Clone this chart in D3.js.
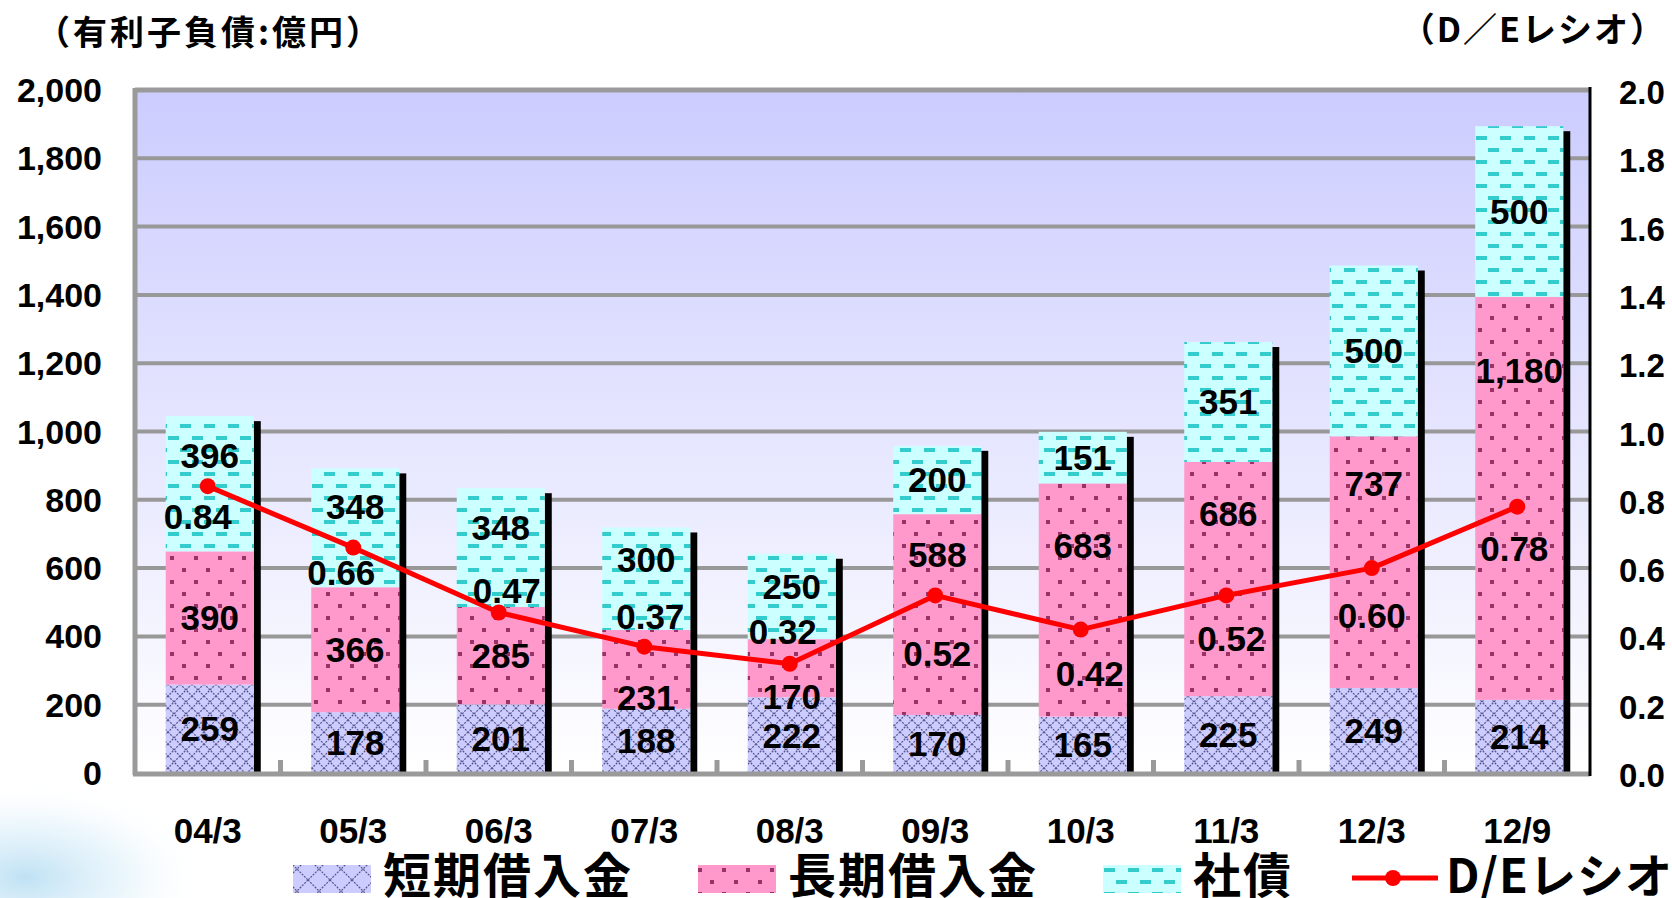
<!doctype html>
<html>
<head>
<meta charset="utf-8">
<title>有利子負債とD/Eレシオ</title>
<script src="https://d3js.org/d3.v7.min.js"></script>
<style>
  body { margin: 0; background: #fff; }
  svg text { font-family: "Liberation Sans", Arial, sans-serif; font-weight: bold; fill: #000; }
  svg text.jp { font-family: "Noto Sans CJK JP", sans-serif; }
</style>
</head>
<body>
<svg id="chart" width="1672" height="898"></svg>
<script>
// ---- data ----
var categories = ["04/3", "05/3", "06/3", "07/3", "08/3", "09/3", "10/3", "11/3", "12/3", "12/9"];
var shortTerm  = [259, 178, 201, 188, 222, 170, 165, 225, 249, 214];   // 短期借入金
var longTerm   = [390, 366, 285, 231, 170, 588, 683, 686, 737, 1180];  // 長期借入金
var bonds      = [396, 348, 348, 300, 250, 200, 151, 351, 500, 500];   // 社債
var deRatio    = [0.84, 0.66, 0.47, 0.37, 0.32, 0.52, 0.42, 0.52, 0.60, 0.78];
var leftTicks  = [0, 200, 400, 600, 800, 1000, 1200, 1400, 1600, 1800, 2000];
var rightTicks = [0, 0.2, 0.4, 0.6, 0.8, 1.0, 1.2, 1.4, 1.6, 1.8, 2.0];
var seriesNames = ["短期借入金", "長期借入金", "社債", "D/Eレシオ"];

// hand placed label nudges in the original (px)
var bondsLabelDy = [-28, -21, -20, -19, -10, 0, 0, 0, 0, 0];
var longLabelDy  = [0, 0, 0, 28, 28, -60, -55, -66, -79, -128];
var deLabelDx    = [-10, -12, 8, 6, -7, 2, 9, 5, 0, -3];
var deLabelDy    = [30, 25, -22, -30, -32, 58, 44, 43, 47, 42];

var svg = d3.select("#chart");
var plotL = 135, plotR = 1590, plotT = 90, plotB = 773;

var x = d3.scaleBand().domain(categories).range([plotL, plotR]).padding(0);
var yL = d3.scaleLinear().domain([0, 2000]).range([plotB, plotT]);
var yR = d3.scaleLinear().domain([0, 2]).range([plotB, plotT]);

var rows = categories.map(function(c, i){
  return {cat: c, short: shortTerm[i], long: longTerm[i], bonds: bonds[i], de: deRatio[i], i: i};
});
var stacked = d3.stack().keys(["short", "long", "bonds"])(rows);

// ---- defs: gradient + patterns ----
var defs = svg.append("defs");
var bg = defs.append("linearGradient").attr("id", "plotbg")
    .attr("x1", 0).attr("y1", 0).attr("x2", 0).attr("y2", 1);
bg.append("stop").attr("offset", "0%").attr("stop-color", "#ccccff");
bg.append("stop").attr("offset", "100%").attr("stop-color", "#ffffff");

var glow = defs.append("radialGradient").attr("id", "glow")
    .attr("cx", 0.1).attr("cy", 0.85).attr("r", 0.7);
glow.append("stop").attr("offset", "0%").attr("stop-color", "#b4dcf2").attr("stop-opacity", 0.85);
glow.append("stop").attr("offset", "55%").attr("stop-color", "#d8eef9").attr("stop-opacity", 0.5);
glow.append("stop").attr("offset", "100%").attr("stop-color", "#ffffff").attr("stop-opacity", 0);

function crossPattern(id, size){
  var p = defs.append("pattern").attr("id", id)
      .attr("patternUnits", "userSpaceOnUse").attr("width", size).attr("height", size);
  p.append("rect").attr("width", size).attr("height", size).attr("fill", "#ccccff");
  p.append("path").attr("d", "M0,0L" + size + "," + size + "M" + size + ",0L0," + size)
      .attr("stroke", "#56568c").attr("stroke-width", 1.2).attr("stroke-dasharray", "2,1.2");
}
crossPattern("pShort", 12);
crossPattern("pShortLeg", 22);

var pLong = defs.append("pattern").attr("id", "pLong")
    .attr("patternUnits", "userSpaceOnUse").attr("width", 24).attr("height", 24);
pLong.append("rect").attr("width", 24).attr("height", 24).attr("fill", "#ff99cc");
pLong.append("rect").attr("x", 2).attr("y", 4).attr("width", 4).attr("height", 4).attr("fill", "#993366");
pLong.append("rect").attr("x", 14).attr("y", 16).attr("width", 4).attr("height", 4).attr("fill", "#993366");

var pBonds = defs.append("pattern").attr("id", "pBonds")
    .attr("patternUnits", "userSpaceOnUse").attr("width", 24).attr("height", 24);
pBonds.append("rect").attr("width", 24).attr("height", 24).attr("fill", "#ccffff");
pBonds.append("rect").attr("x", 0).attr("y", 4).attr("width", 11).attr("height", 4).attr("fill", "#33cccc");
pBonds.append("rect").attr("x", 12).attr("y", 16).attr("width", 11).attr("height", 4).attr("fill", "#33cccc");

var fills = {short: "url(#pShort)", long: "url(#pLong)", bonds: "url(#pBonds)"};
var legendFills = {short: "url(#pShortLeg)", long: "url(#pLong)", bonds: "url(#pBonds)"};

// decorative glow at bottom left
svg.append("rect").attr("x", 0).attr("y", 760).attr("width", 260).attr("height", 138)
    .attr("fill", "url(#glow)");

// ---- plot area ----
svg.append("rect").attr("x", plotL).attr("y", plotT)
    .attr("width", plotR - plotL).attr("height", plotB - plotT)
    .attr("fill", "url(#plotbg)");

svg.append("g").selectAll("line")
  .data(leftTicks.slice(1, -1))
  .join("line")
    .attr("x1", plotL).attr("x2", plotR)
    .attr("y1", function(d){ return yL(d); })
    .attr("y2", function(d){ return yL(d); })
    .attr("stroke", "#989898").attr("stroke-width", 4);

// frame
svg.append("line").attr("x1", plotL).attr("x2", plotR).attr("y1", plotT).attr("y2", plotT)
    .attr("stroke", "#9a9a9a").attr("stroke-width", 5);
svg.append("line").attr("x1", plotL).attr("x2", plotL).attr("y1", plotT - 2).attr("y2", plotB + 2)
    .attr("stroke", "#9a9a9a").attr("stroke-width", 5);

// ---- bars ----
var bw = x.bandwidth();
var barW = bw * 0.605;
function barX(d){ return x(d.data.cat) + bw / 2 + 2 - barW / 2; }

// black shadow on the right of each column
svg.append("g").selectAll("rect")
  .data(stacked[2])
  .join("rect")
    .attr("x", function(d){ return barX(d) + barW; })
    .attr("y", function(d){ return yL(d[1]) + 5; })
    .attr("width", 7)
    .attr("height", function(d){ return plotB - yL(d[1]) - 5; })
    .attr("fill", "#000");

svg.append("g").selectAll("g")
  .data(stacked)
  .join("g")
    .attr("fill", function(s){ return fills[s.key]; })
  .selectAll("rect")
  .data(function(s){ return s; })
  .join("rect")
    .attr("x", barX)
    .attr("y", function(d){ return yL(d[1]); })
    .attr("width", barW)
    .attr("height", function(d){ return yL(d[0]) - yL(d[1]); });

// bottom axis + ticks between categories
svg.append("line").attr("x1", plotL - 2).attr("x2", plotR).attr("y1", plotB + 1).attr("y2", plotB + 1)
    .attr("stroke", "#9a9a9a").attr("stroke-width", 5);
svg.append("g").selectAll("line")
  .data(categories.slice(1))
  .join("line")
    .attr("x1", function(d){ return x(d); }).attr("x2", function(d){ return x(d); })
    .attr("y1", plotB - 13).attr("y2", plotB)
    .attr("stroke", "#9a9a9a").attr("stroke-width", 5);

// right axis
svg.append("line").attr("x1", plotR).attr("x2", plotR).attr("y1", plotT - 3).attr("y2", plotB + 3)
    .attr("stroke", "#000").attr("stroke-width", 3);

// ---- segment labels ----
var nudges = {short: rows.map(function(){ return 0; }), long: longLabelDy, bonds: bondsLabelDy};
svg.append("g").selectAll("g")
  .data(stacked)
  .join("g")
  .selectAll("text")
  .data(function(s){ return s.map(function(d){ return {d: d, key: s.key}; }); })
  .join("text")
    .attr("x", function(o){ return barX(o.d) + barW / 2; })
    .attr("y", function(o){
      return (yL(o.d[0]) + yL(o.d[1])) / 2 + nudges[o.key][o.d.data.i] + 12.5;
    })
    .attr("text-anchor", "middle")
    .style("font-size", "35px")
    .text(function(o){ return d3.format(",")(o.d.data[o.key]); });

// ---- D/E line ----
var line = d3.line()
    .x(function(d){ return x(d.cat) + bw / 2; })
    .y(function(d){ return yR(d.de); });

svg.append("path").datum(rows)
    .attr("d", line)
    .attr("fill", "none").attr("stroke", "#ff0000").attr("stroke-width", 5)
    .attr("stroke-linejoin", "round");

svg.append("g").selectAll("circle")
  .data(rows)
  .join("circle")
    .attr("cx", function(d){ return x(d.cat) + bw / 2; })
    .attr("cy", function(d){ return yR(d.de); })
    .attr("r", 8)
    .attr("fill", "#ff0000");

svg.append("g").selectAll("text")
  .data(rows)
  .join("text")
    .attr("x", function(d){ return x(d.cat) + bw / 2 + deLabelDx[d.i]; })
    .attr("y", function(d){ return yR(d.de) + deLabelDy[d.i] + 12.5; })
    .attr("text-anchor", "middle")
    .style("font-size", "35px")
    .text(function(d){ return d3.format(".2f")(d.de); });

// ---- axis labels ----
svg.append("g").selectAll("text")
  .data(leftTicks)
  .join("text")
    .attr("x", 102)
    .attr("y", function(d){ return yL(d) + 12; })
    .attr("text-anchor", "end")
    .style("font-size", "34px")
    .text(d3.format(","));

svg.append("g").selectAll("text")
  .data(rightTicks)
  .join("text")
    .attr("x", 1619)
    .attr("y", function(d){ return yR(d) + 14; })
    .style("font-size", "33px")
    .text(d3.format(".1f"));

svg.append("g").selectAll("text")
  .data(categories)
  .join("text")
    .attr("x", function(d){ return x(d) + bw / 2; })
    .attr("y", 843)
    .attr("text-anchor", "middle")
    .style("font-size", "35px")
    .text(function(d){ return d; });

// titles
svg.append("text").attr("class", "jp")
    .attr("x", 36).attr("y", 45)
    .style("font-size", "34px").style("letter-spacing", "3px")
    .text("（有利子負債:億円）");
svg.append("text").attr("class", "jp")
    .attr("x", 1666).attr("y", 42)
    .attr("text-anchor", "end")
    .style("font-size", "34px").style("letter-spacing", "2px")
    .text("（D／Eレシオ）");

// ---- legend ----
var legend = svg.append("g");
var swatchX = [293, 698, 1103];
["short", "long", "bonds"].forEach(function(k, i){
  legend.append("rect")
      .attr("x", swatchX[i]).attr("y", 865).attr("width", 78).attr("height", 28)
      .attr("fill", legendFills[k]);
  legend.append("text").attr("class", "jp")
      .attr("x", swatchX[i] + 90).attr("y", 893)
      .style("font-size", "48px").style("letter-spacing", "2px")
      .text(seriesNames[i]);
});
legend.append("line").attr("x1", 1352).attr("x2", 1438).attr("y1", 878).attr("y2", 878)
    .attr("stroke", "#ff0000").attr("stroke-width", 5);
legend.append("circle").attr("cx", 1393).attr("cy", 878).attr("r", 8).attr("fill", "#ff0000");
legend.append("text").attr("class", "jp")
    .attr("x", 1446).attr("y", 893)
    .style("font-size", "47px").style("letter-spacing", "1px")
    .text(seriesNames[3]);
</script>
</body>
</html>
